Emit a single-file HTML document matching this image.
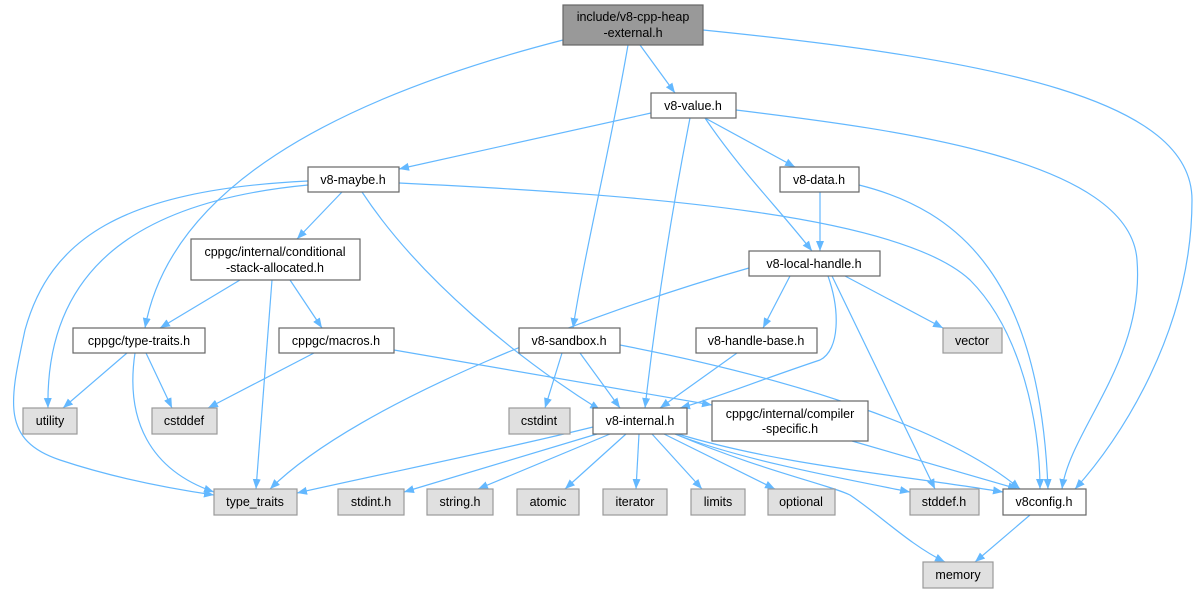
<!DOCTYPE html>
<html><head><meta charset="utf-8"><style>
html,body{margin:0;padding:0;background:#fff;width:1197px;height:593px;overflow:hidden}
svg text{font-family:"Liberation Sans",Arial,sans-serif;font-size:12.5px;fill:#000;text-anchor:middle}
</style></head><body>
<svg width="1197" height="593" viewBox="0 0 1197 593" xmlns="http://www.w3.org/2000/svg">
<defs><marker id="a" viewBox="0 0 10 10" refX="10" refY="5" markerWidth="10" markerHeight="10" markerUnits="userSpaceOnUse" orient="auto"><path d="M0,1 L10,5 L0,9 z" fill="#63b8ff"/></marker></defs>
<g fill="none" stroke="#63b8ff" stroke-width="1.2" marker-end="url(#a)">
<path d="M640,45 L675,93"/>
<path d="M563,40 C330,100 170,190 145,328"/>
<path d="M628,45 C610,150 585,250 573,328"/>
<path d="M703,30 C1000,60 1192,100 1192,200 C1192,330 1120,440 1075,489"/>
<path d="M651,113 L399,169"/>
<path d="M705,118 L795,167"/>
<path d="M705,118 C740,170 780,210 812,251"/>
<path d="M690,118 C670,220 655,320 645,408"/>
<path d="M736,110 C900,130 1130,160 1137,260 C1145,360 1070,430 1062,489"/>
<path d="M820,192 L820,251"/>
<path d="M859,185 C960,210 1040,280 1048,489"/>
<path d="M308,185 C150,200 45,260 48,408"/>
<path d="M308,181 C120,190 50,240 25,330 C10,400 0,440 60,460 C120,480 180,490 214,495"/>
<path d="M342,192 L297,239"/>
<path d="M362,192 C420,280 520,360 600,410"/>
<path d="M399,183 C650,195 900,215 970,280 C1020,330 1040,420 1040,489"/>
<path d="M240,280 L160,328"/>
<path d="M272,280 L256,489"/>
<path d="M290,280 L322,328"/>
<path d="M127,353 L63,408"/>
<path d="M146,353 L172,408"/>
<path d="M135,353 C125,420 150,470 214,492"/>
<path d="M314,353 L208,408"/>
<path d="M394,350 L712,405"/>
<path d="M749,268 C600,310 360,400 270,489"/>
<path d="M790,276 L763,328"/>
<path d="M845,276 L943,328"/>
<path d="M828,276 C840,310 840,350 820,360 C760,380 710,400 680,408"/>
<path d="M832,276 L935,489"/>
<path d="M562,353 L545,408"/>
<path d="M580,353 L620,408"/>
<path d="M620,345 C800,380 950,430 1020,489"/>
<path d="M737,353 L660,408"/>
<path d="M852,441 L1018,489"/>
<path d="M593,427 C500,450 400,470 297,493"/>
<path d="M597,434 L404,492"/>
<path d="M610,434 L478,489"/>
<path d="M626,434 L565,489"/>
<path d="M639,434 L636,489"/>
<path d="M652,434 L702,489"/>
<path d="M664,434 L775,489"/>
<path d="M675,434 C740,460 850,480 910,492"/>
<path d="M678,434 C780,465 900,475 1003,492"/>
<path d="M675,434 C760,470 830,485 850,495 C880,515 910,545 945,562"/>
<path d="M1030,515 L975,562"/>
</g>
<g stroke-width="1.2">
<rect x="563" y="5" width="140" height="40" fill="#999" stroke="#666"/>
<rect x="651" y="93" width="85" height="25" fill="#fff" stroke="#666"/>
<rect x="308" y="167" width="91" height="25" fill="#fff" stroke="#666"/>
<rect x="780" y="167" width="79" height="25" fill="#fff" stroke="#666"/>
<rect x="191" y="239" width="169" height="41" fill="#fff" stroke="#666"/>
<rect x="749" y="251" width="131" height="25" fill="#fff" stroke="#666"/>
<rect x="73" y="328" width="132" height="25" fill="#fff" stroke="#666"/>
<rect x="279" y="328" width="115" height="25" fill="#fff" stroke="#666"/>
<rect x="519" y="328" width="101" height="25" fill="#fff" stroke="#666"/>
<rect x="696" y="328" width="121" height="25" fill="#fff" stroke="#666"/>
<rect x="943" y="328" width="59" height="25" fill="#e0e0e0" stroke="#999"/>
<rect x="23" y="408" width="54" height="26" fill="#e0e0e0" stroke="#999"/>
<rect x="152" y="408" width="65" height="26" fill="#e0e0e0" stroke="#999"/>
<rect x="509" y="408" width="61" height="26" fill="#e0e0e0" stroke="#999"/>
<rect x="593" y="408" width="94" height="26" fill="#fff" stroke="#666"/>
<rect x="712" y="401" width="156" height="40" fill="#fff" stroke="#666"/>
<rect x="214" y="489" width="83" height="26" fill="#e0e0e0" stroke="#999"/>
<rect x="338" y="489" width="66" height="26" fill="#e0e0e0" stroke="#999"/>
<rect x="427" y="489" width="66" height="26" fill="#e0e0e0" stroke="#999"/>
<rect x="517" y="489" width="62" height="26" fill="#e0e0e0" stroke="#999"/>
<rect x="603" y="489" width="64" height="26" fill="#e0e0e0" stroke="#999"/>
<rect x="691" y="489" width="54" height="26" fill="#e0e0e0" stroke="#999"/>
<rect x="768" y="489" width="67" height="26" fill="#e0e0e0" stroke="#999"/>
<rect x="910" y="489" width="69" height="26" fill="#e0e0e0" stroke="#999"/>
<rect x="1003" y="489" width="83" height="26" fill="#fff" stroke="#666"/>
<rect x="923" y="562" width="70" height="26" fill="#e0e0e0" stroke="#999"/>
</g>
<g>
<text x="633" y="21">include/v8-cpp-heap</text><text x="633" y="37">-external.h</text>
<text x="693" y="110">v8-value.h</text>
<text x="353" y="184">v8-maybe.h</text>
<text x="819" y="184">v8-data.h</text>
<text x="275" y="256">cppgc/internal/conditional</text><text x="275" y="272">-stack-allocated.h</text>
<text x="814" y="268">v8-local-handle.h</text>
<text x="139" y="345">cppgc/type-traits.h</text>
<text x="336" y="345">cppgc/macros.h</text>
<text x="569" y="345">v8-sandbox.h</text>
<text x="756" y="345">v8-handle-base.h</text>
<text x="972" y="345">vector</text>
<text x="50" y="425">utility</text>
<text x="184" y="425">cstddef</text>
<text x="539" y="425">cstdint</text>
<text x="640" y="425">v8-internal.h</text>
<text x="790" y="418">cppgc/internal/compiler</text><text x="790" y="433">-specific.h</text>
<text x="255" y="506">type_traits</text>
<text x="371" y="506">stdint.h</text>
<text x="460" y="506">string.h</text>
<text x="548" y="506">atomic</text>
<text x="635" y="506">iterator</text>
<text x="718" y="506">limits</text>
<text x="801" y="506">optional</text>
<text x="944" y="506">stddef.h</text>
<text x="1044" y="506">v8config.h</text>
<text x="958" y="579">memory</text>
</g>
</svg>
</body></html>
